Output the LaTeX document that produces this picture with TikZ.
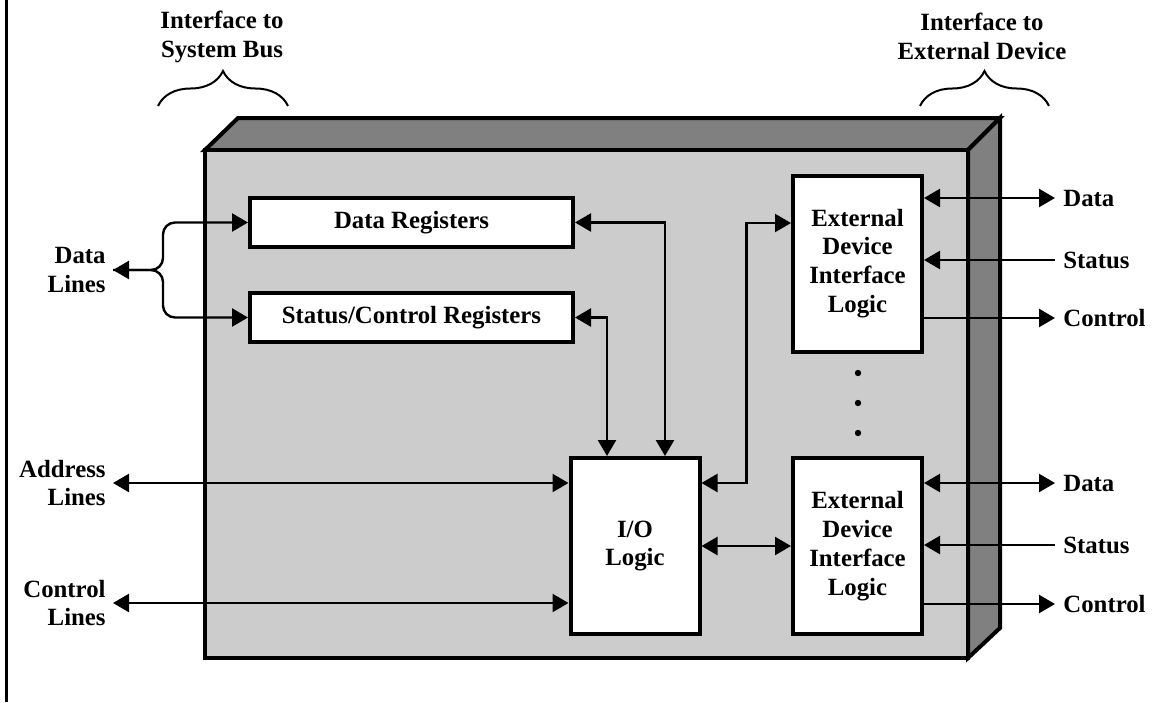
\documentclass[tikz,border=0pt]{standalone}
\usepackage{fontspec}
\setmainfont{Liberation Serif}
\usetikzlibrary{arrows.meta,decorations.pathreplacing}
\definecolor{cardface}{gray}{0.8}
\definecolor{cardside}{gray}{0.5}
\tikzset{
	regbox/.style={
		draw,
		line width=2pt,
		fill=white,
		inner sep=0pt,
		minimum width=161.5pt,
		minimum height=24.5pt
	},
	logicbox/.style={
		draw,
		line width=2pt,
		fill=white,
		inner sep=0pt,
		align=center,
		minimum width=64.5pt,
		minimum height=88pt
	},
	sidelabel/.style={anchor=east, align=right, inner sep=3.5pt},
	portlabel/.style={anchor=west, inner sep=4pt, text height=8.2pt, text depth=0pt},
	link/.style={line width=1.2pt, -{Triangle[length=8pt,width=9pt]}},
	duplex/.style={line width=1.2pt, {Triangle[length=8pt,width=9pt]}-{Triangle[length=8pt,width=9pt]}},
	bustie/.style={line width=1pt, decorate, decoration={brace, amplitude=17.5pt}},
}

\begin{document}
\begin{tikzpicture}[x=0.5pt, y=-0.5pt, font=\fontsize{12.4}{14.4}\selectfont\bfseries]
\useasboundingbox (0,0) rectangle (1152,702);

\draw[line width=1.5pt] (6,0) -- (6,702);

% the module: top, side, front
\draw[line width=2pt, fill=cardside] (205,150) -- (238,118) -- (1000,118) -- (968,150) -- cycle;
\draw[line width=2pt, fill=cardside] (968,150) -- (1000,118) -- (1000,628) -- (968,658) -- cycle;
\draw[line width=2pt, fill=cardface] (205,150) rectangle (968,658);

\draw[bustie] (158,106) -- (288,106);
\draw[bustie] (920,106) -- (1049,106);
\node[align=center] (busside) at (222,37) {Interface to\\System Bus};
\node[align=center] (devside) at (982,36) {Interface to\\External Device};

\node[regbox] (datareg) at (411.5,222.5) {Data Registers};
\node[regbox] (statreg) at (411.5,317.5) {Status/Control Registers};
\node[logicbox] (iologic) at (635,546) {I/O\\Logic};
\node[logicbox] (extdev1) at (857.5,263.5) {External\\Device\\Interface\\Logic};
\node[logicbox] (extdev2) at (857.5,546) {External\\Device\\Interface\\Logic};

\fill (858,373) circle (1.6pt);
\fill (858,403) circle (1.6pt);
\fill (858,433) circle (1.6pt);

\node[sidelabel] (datalines) at (113,270) {Data\\Lines};
\node[sidelabel] (addrlines) at (113,483) {Address\\Lines};
\node[sidelabel] (ctrllines) at (113,603) {Control\\Lines};
\coordinate (fork) at (163,270);

\node[portlabel] (data1) at (1055,198) {Data};
\node[portlabel] (stat1) at (1055,260) {Status};
\node[portlabel] (ctrl1) at (1055,318) {Control};
\node[portlabel] (data2) at (1055,483) {Data};
\node[portlabel] (stat2) at (1055,545) {Status};
\node[portlabel] (ctrl2) at (1055,604) {Control};

% system bus side
\draw[duplex, rounded corners=6pt] (datalines.east) -- (fork) |- (datareg.west);
\draw[link, rounded corners=6pt] (datalines.east) -- (fork) |- (statreg.west);
\draw[duplex] (addrlines.east) -- (addrlines.east -| iologic.west);
\draw[duplex] (ctrllines.east) -- (ctrllines.east -| iologic.west);

\draw[duplex] (datareg.east) -| ([xshift=15pt]iologic.north);
\draw[duplex] (statreg.east) -| ([xshift=-14pt]iologic.north);
\draw[duplex] ([yshift=31.5pt]iologic.east) -- ++(45,0) |- ([yshift=20.25pt]extdev1.west);
\draw[duplex] (iologic.east) -- (extdev2.west);

% device side
\draw[duplex] (extdev1.east |- data1.west) -- (data1.west);
\draw[link] (stat1.west) -- (stat1.west -| extdev1.east);
\draw[link] (extdev1.east |- ctrl1.west) -- (ctrl1.west);
\draw[duplex] (extdev2.east |- data2.west) -- (data2.west);
\draw[link] (stat2.west) -- (stat2.west -| extdev2.east);
\draw[link] (extdev2.east |- ctrl2.west) -- (ctrl2.west);

\end{tikzpicture}
\end{document}
